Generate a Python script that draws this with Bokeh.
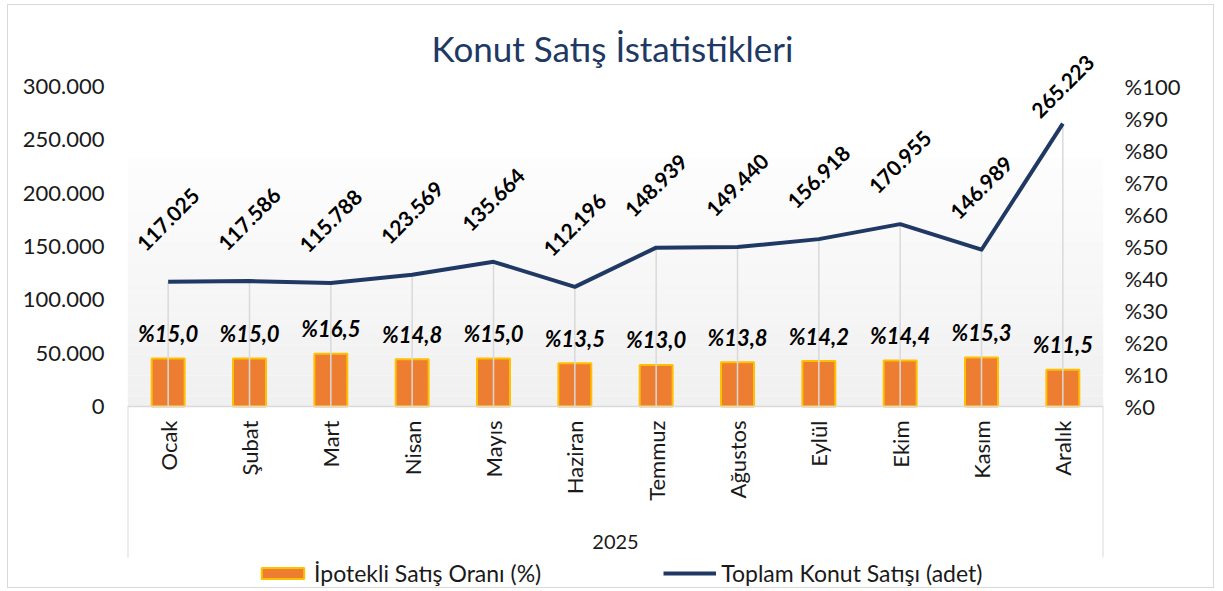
import math, sys
from bokeh.plotting import figure
from bokeh.models import (Range1d, LinearAxis, FixedTicker, CustomJSTickFormatter,
                          Legend, LegendItem, BoxAnnotation, Label)
from bokeh.core.properties import value
from bokeh.embed import file_html
from bokeh.resources import INLINE

months = ["Ocak", "Şubat", "Mart", "Nisan", "Mayıs", "Haziran",
          "Temmuz", "Ağustos", "Eylül", "Ekim", "Kasım", "Aralık"]
total_sales = [117025, 117586, 115788, 123569, 135664, 112196,
               148939, 149440, 156918, 170955, 146989, 265223]
mortgage_pct = [15.0, 15.0, 16.5, 14.8, 15.0, 13.5,
                13.0, 13.8, 14.2, 14.4, 15.3, 11.5]
left_ticks = [0, 50000, 100000, 150000, 200000, 250000, 300000]
right_ticks = [0, 10, 20, 30, 40, 50, 60, 70, 80, 90, 100]
year_label = "2025"

FONT = "Lato"
NAVY = "#203864"
FRAME_W = 976
ABOVE_PX, BELOW_PX = 387, 181      # frame pixels above / below the zero line
FRAME_H = ABOVE_PX + BELOW_PX
Y_MAX = 300000
PX = Y_MAX / 320.0                  # data units per pixel
Y_END = ABOVE_PX * PX
Y_START = -BELOW_PX * PX

p = figure(x_range=months, y_range=Range1d(Y_START, Y_END),
           frame_width=FRAME_W, frame_height=FRAME_H,
           min_border_left=119, min_border_right=110, min_border_top=14,
           min_border_bottom=0,
           output_backend="svg", toolbar_location=None,
           styles={"border": "1px solid #d9d9d9", "margin-left": "7px", "margin-top": "4px"})
p.extra_y_ranges = {"pct": Range1d(Y_START / 3000.0, Y_END / 3000.0)}

p.outline_line_color = None
p.xgrid.grid_line_color = None
p.ygrid.grid_line_color = None
p.background_fill_color = "white"
p.border_fill_color = "white"

# soft gradient in plot background
n_b = 24
g_top = 233000
for i in range(n_b):
    b = g_top * i / n_b
    t = g_top * (i + 1) / n_b
    c = int(round(0xF0 + (0xFD - 0xF0) * i / (n_b - 1)))
    p.add_layout(BoxAnnotation(bottom=b, top=t, fill_color="#%02x%02x%02x" % (c, c, c),
                               fill_alpha=1, line_color=None, level="underlay"))

# bars (right axis)
bars = p.vbar(x=months, top=mortgage_pct, width=0.405, y_range_name="pct",
              fill_color="#ED7D31", line_color="#FFC000", line_width=2)

# drop lines
p.segment(x0=months, y0=[0] * len(months), x1=months, y1=total_sales,
          line_color="#d9d9d9", line_width=1.5)

# edge lines of the category label area
p.segment(x0=[(months[0], -0.5), (months[-1], 0.5)], y0=[0, 0],
          x1=[(months[0], -0.5), (months[-1], 0.5)], y1=[-151 * PX, -151 * PX],
          line_color="#d9d9d9", line_width=2)

# line (left axis)
line = p.line(x=months, y=total_sales, line_color=NAVY, line_width=4,
              line_join="round")

# labels
pct_labels = ["%" + ("%.1f" % v).replace(".", ",") for v in mortgage_pct]
p.text(x=months, y=mortgage_pct, text=pct_labels, y_range_name="pct",
       text_align="center", text_baseline="middle", y_offset=-25,
       text_font=value(FONT), text_font_style="bold italic",
       text_font_size="22px", text_color="black")

sales_labels = ["{:,}".format(v).replace(",", ".") for v in total_sales]
label_y = [min(v + 62 * PX, Y_MAX) for v in total_sales]
p.text(x=months, y=label_y, text=sales_labels, angle=math.pi / 4,
       text_align="center", text_baseline="middle",
       text_font=value(FONT), text_font_style="bold",
       text_font_size="21px", text_color="black")

# title
p.add_layout(Label(x=FRAME_W / 2 - 3, y=BELOW_PX + 359, x_units="screen", y_units="screen",
                   text="Konut Satış İstatistikleri", text_align="center",
                   text_baseline="middle", text_font=FONT, text_font_size="35px",
                   text_color=NAVY))

# left axis
ya = p.yaxis[0]
ya.ticker = FixedTicker(ticks=left_ticks)
ya.formatter = CustomJSTickFormatter(code="""
  if (tick == 0) return '0';
  return tick.toFixed(0).replace(/\\B(?=(\\d{3})+(?!\\d))/g, '.');
""")
ya.axis_line_color = None
ya.major_tick_line_color = None
ya.minor_tick_line_color = None
ya.major_tick_out = 0
ya.major_label_standoff = 23
ya.major_label_text_font = FONT
ya.major_label_text_font_size = "22px"
ya.major_label_text_color = "#1a1a1a"

# right axis
ra = LinearAxis(y_range_name="pct", ticker=FixedTicker(ticks=right_ticks))
ra.formatter = CustomJSTickFormatter(code="return '%' + tick.toFixed(0);")
ra.axis_line_color = None
ra.major_tick_line_color = None
ra.minor_tick_line_color = None
ra.major_tick_out = 0
ra.major_label_standoff = 21
ra.major_label_text_font = FONT
ra.major_label_text_font_size = "22px"
ra.major_label_text_color = "#1a1a1a"
p.add_layout(ra, "right")

# x axis, drawn at the zero line inside the frame
xa = p.xaxis[0]
xa.fixed_location = 0
xa.axis_line_color = "#d9d9d9"
xa.axis_line_width = 1.5
xa.major_tick_line_color = None
xa.minor_tick_line_color = None
xa.major_tick_out = 0
xa.major_tick_in = 0
xa.major_label_orientation = math.pi / 2
xa.major_label_standoff = 14
xa.major_label_text_font = FONT
xa.major_label_text_font_size = "22px"
xa.major_label_text_color = "#1a1a1a"
xa.axis_label = year_label
xa.axis_label_standoff = 31
xa.axis_label_text_font = FONT
xa.axis_label_text_font_size = "20px"
xa.axis_label_text_font_style = "normal"
xa.axis_label_text_color = "#1a1a1a"

legend = Legend(items=[LegendItem(label="İpotekli Satış Oranı (%)", renderers=[bars]),
                       LegendItem(label="Toplam Konut Satışı (adet)", renderers=[line])],
                orientation="horizontal", location=(129, 0),
                label_text_font=FONT, label_text_font_size="23px",
                label_text_color="#1a1a1a",
                glyph_width=53, glyph_height=14, spacing=122, label_standoff=5,
                border_line_color=None, background_fill_alpha=0,
                margin=0, padding=3)
p.add_layout(legend, "center")

open("out.html", "w").write(file_html(p, INLINE))
